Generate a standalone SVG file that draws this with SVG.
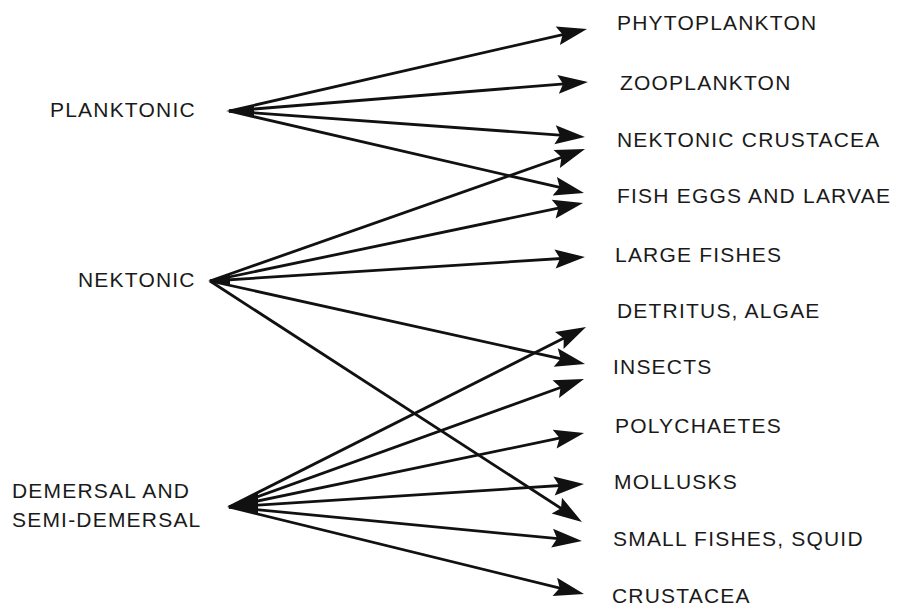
<svg xmlns="http://www.w3.org/2000/svg" width="898" height="608" viewBox="0 0 898 608">
<style>
text{font-family:"Liberation Sans",Arial,sans-serif;font-size:21px;fill:#1a1a1a;letter-spacing:1.2px}
.c line{stroke:#111;stroke-width:2.8;fill:none;marker-end:url(#ah)}
.w{fill:#111}
</style>
<defs>
<marker id="ah" markerUnits="userSpaceOnUse" markerWidth="32" markerHeight="22" refX="22" refY="0" orient="auto" overflow="visible" viewBox="0 -11 32 22">
<path d="M0,-9.5 L30,0 L0,9.5 L5,0 Z" fill="#111"/>
</marker>
</defs>
<rect width="898" height="608" fill="#fff"/>
<g id="planktonic"><text x="50" y="117">PLANKTONIC</text></g>
<g id="nektonic"><text x="78" y="287">NEKTONIC</text></g>
<g id="demersal"><text x="12" y="498">DEMERSAL AND</text><text x="12" y="527">SEMI-DEMERSAL</text></g>
<g id="phytoplankton"><text x="617" y="30">PHYTOPLANKTON</text></g>
<g id="zooplankton"><text x="620" y="90">ZOOPLANKTON</text></g>
<g id="nektonic-crustacea"><text x="617" y="147">NEKTONIC CRUSTACEA</text></g>
<g id="fish-eggs"><text x="617" y="203">FISH EGGS AND LARVAE</text></g>
<g id="large-fishes"><text x="615" y="262">LARGE FISHES</text></g>
<g id="detritus"><text x="617" y="318">DETRITUS, ALGAE</text></g>
<g id="insects"><text x="613" y="374">INSECTS</text></g>
<g id="polychaetes"><text x="615" y="433">POLYCHAETES</text></g>
<g id="mollusks"><text x="614" y="489">MOLLUSKS</text></g>
<g id="small-fishes"><text x="613" y="546">SMALL FISHES, SQUID</text></g>
<g id="crustacea"><text x="612" y="603">CRUSTACEA</text></g>
<g id="connectors" class="c">
<polygon class="w" points="226,111 254,105 254,117"/>
<polygon class="w" points="208,281 230,273.5 230,286"/>
<polygon class="w" points="227,507 258,493 258,514"/>
<line x1="229" y1="111" x2="579.2" y2="30.8"/>
<line x1="229" y1="111" x2="580.0" y2="82.6"/>
<line x1="229" y1="111" x2="577.0" y2="136.4"/>
<line x1="229" y1="111" x2="576.2" y2="191.2"/>
<line x1="210" y1="281" x2="577.5" y2="151.7"/>
<line x1="210" y1="281" x2="575.2" y2="204.6"/>
<line x1="210" y1="281" x2="577.0" y2="257.5"/>
<line x1="210" y1="281" x2="577.2" y2="362.3"/>
<line x1="210" y1="281" x2="575.3" y2="517.6"/>
<line x1="229" y1="507" x2="578.9" y2="330.6"/>
<line x1="229" y1="507" x2="576.5" y2="381.7"/>
<line x1="229" y1="507" x2="576.2" y2="434.6"/>
<line x1="229" y1="507" x2="576.0" y2="484.5"/>
<line x1="229" y1="507" x2="574.0" y2="540.2"/>
<line x1="229" y1="507" x2="576.2" y2="592.1"/>
</g>
</svg>
